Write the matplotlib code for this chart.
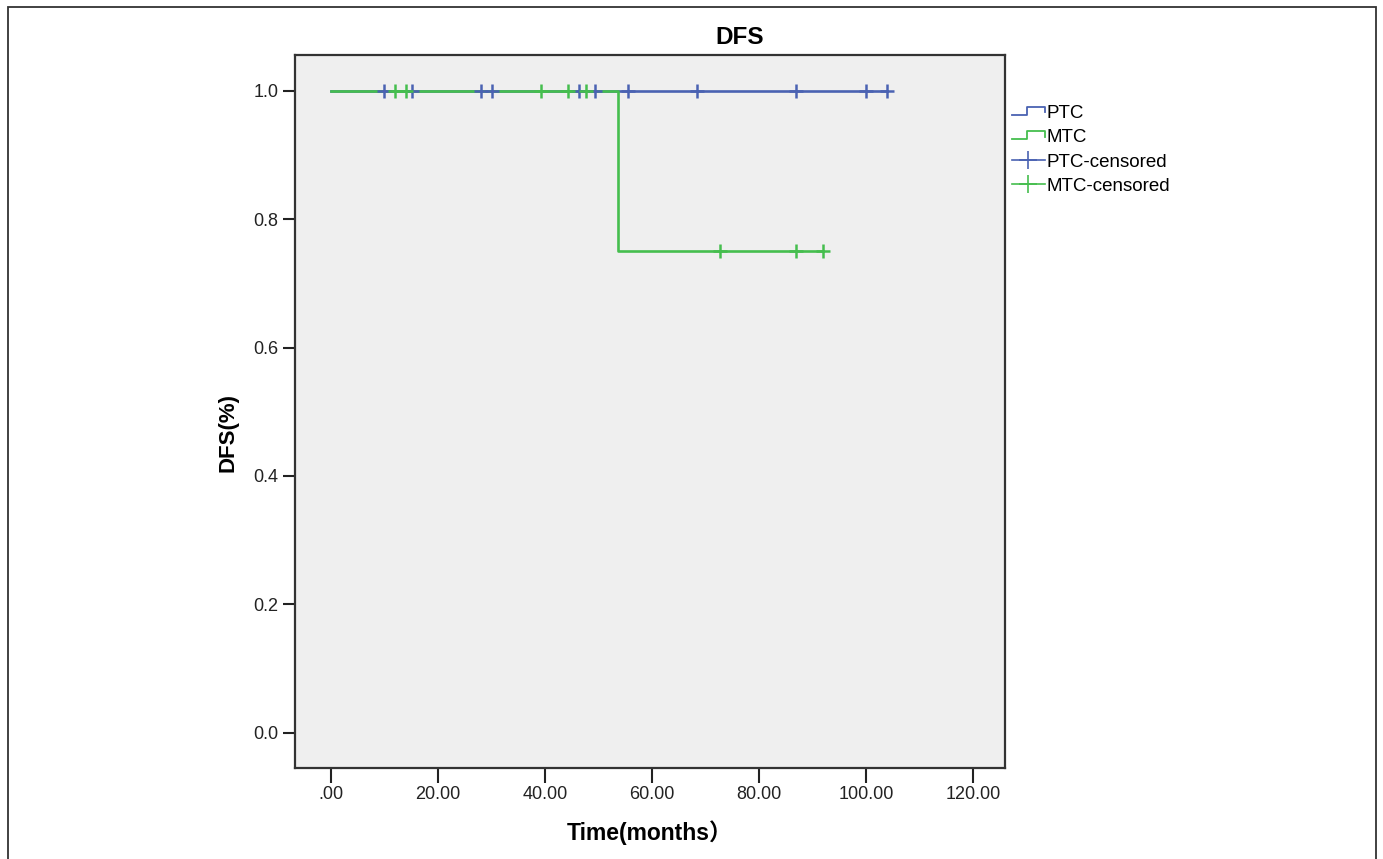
import matplotlib
matplotlib.use("Agg")
import matplotlib.pyplot as plt
import numpy as np
from matplotlib.lines import Line2D
from matplotlib.legend_handler import HandlerBase
from matplotlib.patches import Rectangle

plt.rcParams['font.family'] = ['Liberation Sans', 'Noto Sans CJK SC', 'DejaVu Sans']

# ---- data (months) ----
ptc_step_times = [0.0]
ptc_step_surv = [1.0]
ptc_end = 104.0
ptc_censored = [10.0, 15.1, 28.1, 30.2, 46.4, 49.4, 55.5, 68.5, 86.9, 100.1, 104.0]

mtc_step_times = [0.0, 53.7]
mtc_step_surv = [1.0, 0.75]
mtc_end = 91.9
mtc_censored = [12.0, 14.0, 39.3, 44.3, 47.7, 72.7, 86.9, 91.9]

xticks = [0, 20, 40, 60, 80, 100, 120]
xticklabels = ['.00', '20.00', '40.00', '60.00', '80.00', '100.00', '120.00']
yticks = [0.0, 0.2, 0.4, 0.6, 0.8, 1.0]
yticklabels = ['0.0', '0.2', '0.4', '0.6', '0.8', '1.0']

BLUE = '#4A62B2'
GREEN = '#45BE4E'


def surv_at(t, times, surv):
    idx = np.searchsorted(times, t, side='right') - 1
    return np.asarray(surv)[idx]


fig = plt.figure(figsize=(13.83, 8.59), dpi=100)
W, H = 1383, 859
ax = fig.add_axes([295 / W, (H - 768) / H, (1005 - 295) / W, (768 - 55) / H])
ax.set_facecolor('#EFEFEF')

for times, surv, end, cens, col in [
    (ptc_step_times, ptc_step_surv, ptc_end, ptc_censored, BLUE),
    (mtc_step_times, mtc_step_surv, mtc_end, mtc_censored, GREEN),
]:
    xs = list(times) + [end]
    ys = list(surv) + [surv[-1]]
    ax.step(xs, ys, where='post', color=col, lw=1.9, zorder=2)

ax.plot(ptc_censored, surv_at(ptc_censored, ptc_step_times, ptc_step_surv),
        ls='none', marker='+', ms=10, mew=1.8, color=BLUE, zorder=3)
ax.plot(mtc_censored, surv_at(mtc_censored, mtc_step_times, mtc_step_surv),
        ls='none', marker='+', ms=10, mew=1.8, color=GREEN, zorder=3)

ax.set_xlim(-6.7, 126.0)
ax.set_ylim(-0.055, 1.056)
ax.set_xticks(xticks)
ax.set_xticklabels(xticklabels)
ax.set_yticks(yticks)
ax.set_yticklabels(yticklabels)
ax.tick_params(axis='both', direction='out', labelsize=13, colors='#222222', width=1.5)
ax.tick_params(axis='y', length=9, pad=3)
ax.tick_params(axis='x', length=11, pad=2)
for s in ax.spines.values():
    s.set_linewidth(1.6)
    s.set_color('#333333')

ax.set_xlabel('Time(months）', fontsize=16.5, fontweight='bold')
ax.xaxis.set_label_coords(0.5, (H - 833 - 91) / 713)
ax.xaxis.label.set_va('center')
ax.set_ylabel('DFS(%)', fontsize=16, fontweight='bold')
ax.yaxis.set_label_coords((228 - 295) / 710, (H - 433 - 91) / 713)
ax.yaxis.label.set_va('center')

fig.text(740 / W, 1 - 37 / H, 'DFS', ha='center', va='center', fontsize=17.5, fontweight='bold')


class StepHandler(HandlerBase):
    def create_artists(self, legend, orig_handle, xdescent, ydescent, width, height, fontsize, trans):
        x0 = -xdescent
        y0 = -ydescent
        xs = [x0, x0 + 0.45 * width, x0 + 0.45 * width, x0 + width, x0 + width]
        ys = [y0 + 0.25 * height, y0 + 0.25 * height, y0 + 0.85 * height, y0 + 0.85 * height, y0 + 0.45 * height]
        ln = Line2D(xs, ys, color=orig_handle.get_color(), lw=1.3, transform=trans)
        return [ln]


h_ptc = Line2D([], [], color=BLUE)
h_mtc = Line2D([], [], color=GREEN)
h_ptc_c = Line2D([], [], color=BLUE, marker='+', ms=13, mew=1.2, lw=1.2)
h_mtc_c = Line2D([], [], color=GREEN, marker='+', ms=13, mew=1.2, lw=1.2)
leg = ax.legend([h_ptc, h_mtc, h_ptc_c, h_mtc_c], ['PTC', 'MTC', 'PTC-censored', 'MTC-censored'],
                handler_map={h_ptc: StepHandler(), h_mtc: StepHandler()},
                loc='upper left', bbox_to_anchor=(0.999, 0.94), frameon=False,
                fontsize=13.5, handlelength=1.75, handletextpad=0.1, labelspacing=0.37,
                borderaxespad=0)

fig.patches.append(Rectangle((8 / W, -0.02), (1376 - 8) / W, 1 - 7 / H + 0.02,
                             transform=fig.transFigure, fill=False, lw=1.3,
                             edgecolor='#333333'))

fig.savefig('out.png', dpi=100, facecolor='white')
